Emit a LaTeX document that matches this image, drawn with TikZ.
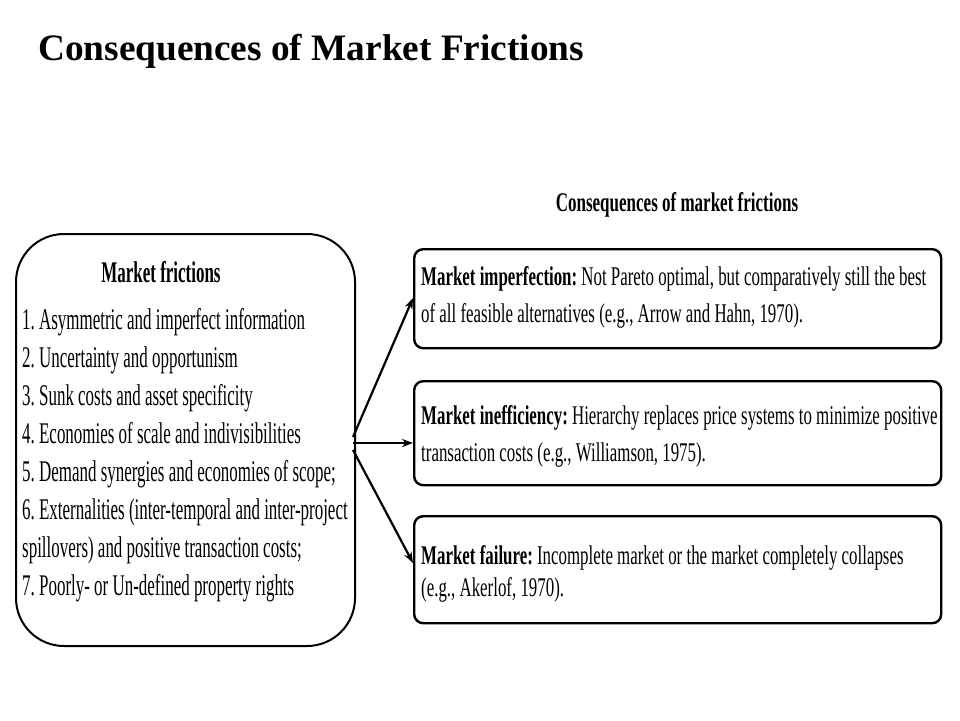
\documentclass[tikz,border=0pt]{standalone}
\usepackage{fontspec}
\setmainfont{Liberation Serif}
\newfontfamily\cfl[FakeStretch=0.565]{Liberation Serif}
\newfontfamily\cfr[FakeStretch=0.625]{Liberation Serif}
\newfontfamily\cfs[FakeStretch=0.63]{Liberation Serif}
\usetikzlibrary{arrows.meta}
\begin{document}
\frenchspacing
\begin{tikzpicture}[x=1pt,y=-1pt,
  outerbox/.style={draw=black, line width=2pt, rounded corners=48pt, anchor=north west, inner sep=0pt},
  consbox/.style={draw=black, line width=2.4pt, rounded corners=9pt, anchor=north west, inner sep=0pt, minimum width=527pt},
  bodytext/.style={font=\cfl\fontsize{30}{38}\selectfont, align=left, anchor=north west, inner sep=0pt},
  constext/.style={font=\cfr\fontsize{27}{37}\selectfont, align=left, anchor=north west, inner sep=0pt},
  conn/.style={line width=2.2pt, -{Stealth[length=11pt,width=8pt]}}]
\useasboundingbox (0,0) rectangle (960,720);
\fill[white] (0,0) rectangle (960,720);
% title
\node[anchor=base west, inner sep=0pt, font=\bfseries\fontsize{37.3}{42}\selectfont] (title) at (38,60) {Consequences of Market Frictions};
% left box
\node[outerbox, minimum width=339pt, minimum height=412pt] (L) at (15,233) {};
\node[anchor=base, inner sep=0pt, font=\cfl\bfseries\fontsize{30}{34}\selectfont] (Lhead) at (161,282) {Market frictions};
\node[bodytext] (Ltext) at (22,308) {1. Asymmetric and imperfect information\\
2. Uncertainty and opportunism\\
3. Sunk costs and asset specificity\\
4. Economies of scale and indivisibilities\\
5. Demand synergies and economies of scope;\\
6. Externalities (inter-temporal and inter-project\\
spillovers) and positive transaction costs;\\
7. Poorly- or Un-defined property rights};
% subtitle
\node[anchor=base, inner sep=0pt, font=\cfs\bfseries\fontsize{27}{30}\selectfont] (sub) at (677,211) {Consequences of market frictions};
% right boxes
\node[consbox, minimum height=99pt] (B1) at (413,248) {};
\node[consbox, minimum height=104pt] (B2) at (413,380) {};
\node[consbox, minimum height=107pt] (B3) at (413,515) {};
\node[constext] (T1) at (421,266.5) {\textbf{Market imperfection:} Not Pareto optimal, but comparatively still the best\\
of all feasible alternatives (e.g., Arrow and Hahn, 1970).};
\node[constext] (T2) at (421,405.5) {\textbf{Market inefficiency:} Hierarchy replaces price systems to minimize positive\\
transaction costs (e.g., Williamson, 1975).};
\node[constext, font=\cfr\fontsize{27}{32}\selectfont] (T3) at (421,545.5) {\textbf{Market failure:} Incomplete market or the market completely collapses\\
(e.g., Akerlof, 1970).};
% arrows
\coordinate (src1) at (353,437);
\coordinate (src2) at (353,443);
\coordinate (src3) at (353,450);
\draw[conn] (src1) -- (B1.west |- 0,298);
\draw[conn] (src2) -- (B2.west |- 0,443);
\draw[conn] (src3) -- (B3.west |- 0,563);
\end{tikzpicture}
\end{document}
